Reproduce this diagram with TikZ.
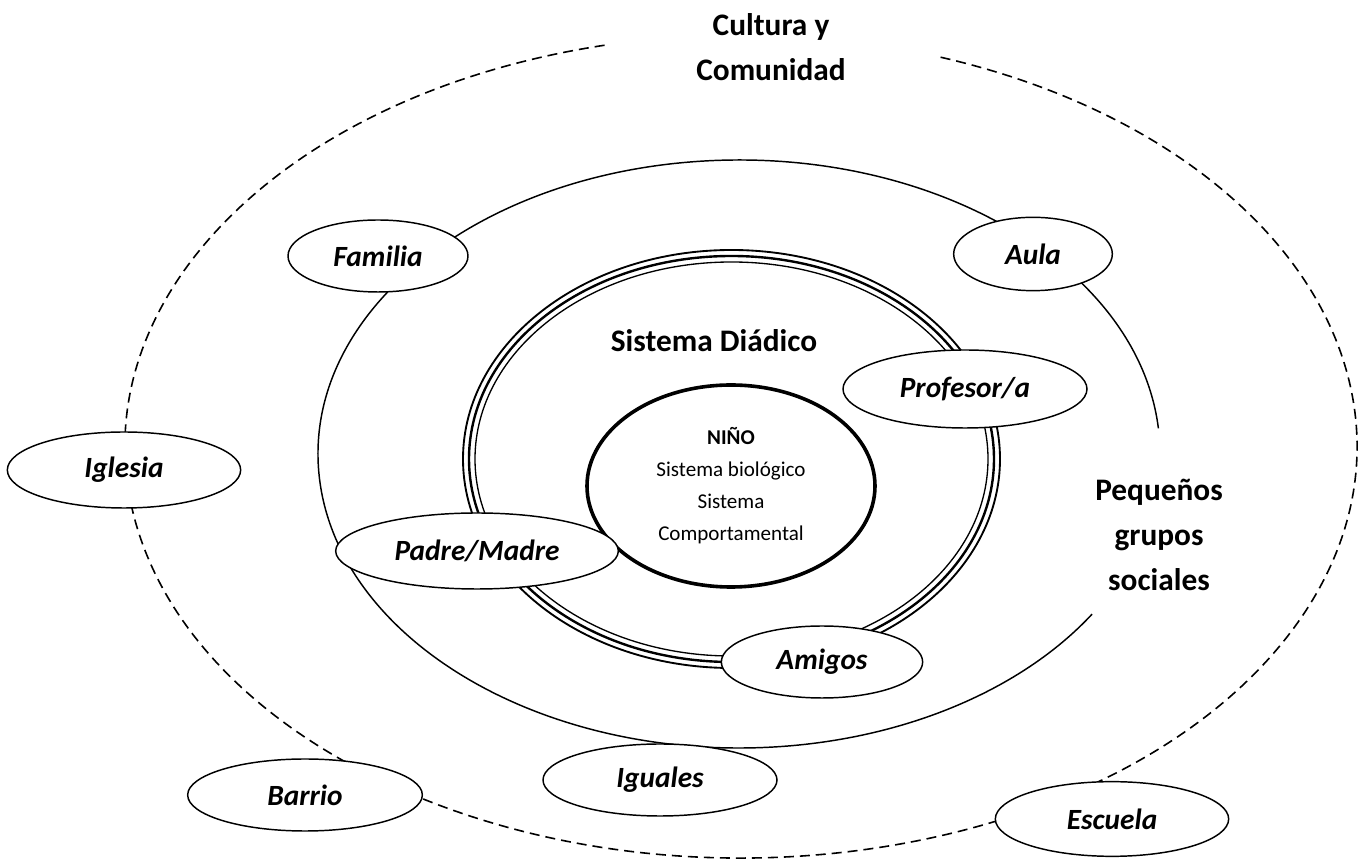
\documentclass[tikz,border=0pt]{standalone}
\usepackage{fontspec}
\setmainfont{Carlito}
\usepackage{tikz}
\usetikzlibrary{positioning,shapes.geometric}
\definecolor{ink}{HTML}{000000}
\tikzset{
  % --- nodes
  grp/.style   = {ellipse, draw=ink, line width=1.1pt, fill=white, inner sep=0pt,
                  font=\fontsize{22}{26}\selectfont\bfseries\itshape},
  ttl/.style   = {align=center, font=\fontsize{23.5}{33.75}\selectfont\bfseries},
  core/.style  = {ellipse, draw=ink, line width=2.7pt, inner sep=0pt, align=center,
                  font=\fontsize{15.8}{24}\selectfont},
  % --- rings
  ring/.style  = {draw=ink, line width=1.1pt},
  dring/.style = {ring, line width=1.2pt, dash pattern=on 7.5pt off 4.5pt},
}

\begin{document}
\begin{tikzpicture}[x=0.75pt,y=0.75pt]
  \useasboundingbox (0,0) rectangle (1368,860);
  \coordinate (cult) at (741,413.5);
  \coordinate (grps) at (739,406);
  \coordinate (diad) at (731.5,401);
  % outer rings
  \draw[dring] ([shift={(102.8:616 and 411.5)}]cult)
    arc [start angle=102.8, end angle=431.2, x radius=616, y radius=411.5];
  \draw[ring] ([shift={(5:421 and 294)}]grps)
    arc [start angle=5, end angle=327, x radius=421, y radius=294];
  % triple ring
  \draw[line width=1.4pt] (diad) ellipse [x radius=268.5, y radius=209];
  \draw[line width=1.8pt] (diad) ellipse [x radius=262.5, y radius=203];
  \draw[line width=1pt]   (diad) ellipse [x radius=256.5, y radius=197];
  \node[core, minimum width=216pt, minimum height=151.5pt] (nino) at (731,374)
    {\textbf{NIÑO}\\Sistema biológico\\Sistema\\Comportamental};
  % titles
  \node[ttl] (cultura) at (771,813) {Cultura y\\Comunidad};
  \node[ttl] (sisdiad) at (714,519) {Sistema Diádico};
  \node[ttl] (pequenos) at (1159,325) {Pequeños\\grupos\\sociales};
  % groups
  \node[grp, minimum width=135pt, minimum height=54pt]   (familia)  at (378,604)  {Familia};
  \node[grp, minimum width=119pt, minimum height=55pt]   (aula)     at (1033,606) {Aula};
  \node[grp, minimum width=183pt, minimum height=58.5pt] (profesor) at (965,471)  {Profesor/a};
  \node[grp, minimum width=175pt, minimum height=57pt]   (iglesia)  at (124,390)  {Iglesia};
  \node[grp, minimum width=212pt, minimum height=57pt]   (padre)    at (477,309)  {Padre/Madre};
  \node[grp, minimum width=151pt, minimum height=54pt]   (amigos)   at (822,198)  {Amigos};
  \node[grp, minimum width=175.5pt, minimum height=54pt] (iguales)  at (660,80)   {Iguales};
  \node[grp, minimum width=176pt, minimum height=54pt]   (barrio)   at (305,65)   {Barrio};
  \node[grp, minimum width=175pt, minimum height=56pt]   (escuela)  at (1112,41)  {Escuela};
\end{tikzpicture}
\end{document}
